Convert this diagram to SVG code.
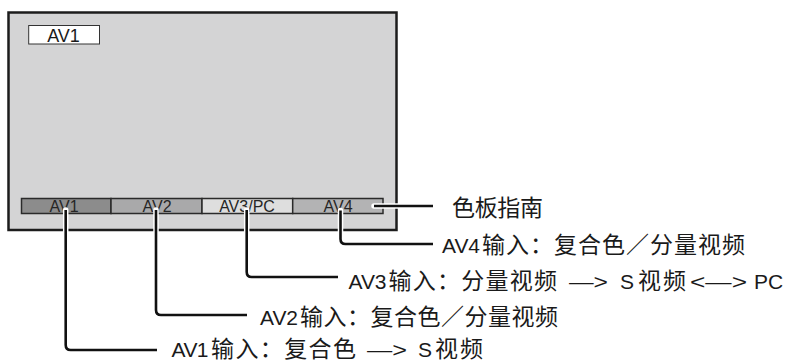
<svg xmlns="http://www.w3.org/2000/svg" width="791" height="363" viewBox="0 0 791 363">
<style>
  .t{font-family:"Liberation Sans","Noto Sans CJK SC",sans-serif;fill:#1a1a1a}
  .lat{font-size:21px}
  .cjk{font-family:"Noto Sans CJK SC",sans-serif;font-size:23px}
  .cell{font-size:16px;text-anchor:middle;fill:#262626}
  .cellbox{stroke:#2a2a2a;stroke-width:1.5}
  .halo{fill:none;stroke:#fff;stroke-width:5.5;stroke-linecap:round;stroke-linejoin:round}
  .wire{fill:none;stroke:#111;stroke-width:2.6;stroke-linecap:butt;stroke-linejoin:round}
</style>
<rect width="791" height="363" fill="#fff"/>
<g id="screen">
  <rect x="8.5" y="12.5" width="388" height="217.5" fill="#d4d4d5" stroke="#1c1c1c" stroke-width="2.5"/>
  <g id="current-input">
    <rect x="28.7" y="25.5" width="70.8" height="18.5" fill="#fff" stroke="#333" stroke-width="1"/>
    <text class="t" x="63.5" y="41.5" font-size="18" text-anchor="middle">AV1</text>
  </g>
</g>
<g id="bar-av1">
  <rect class="cellbox" x="21.5" y="198.5" width="89.5" height="15" fill="#8c8c8c"/>
  <text class="t cell" x="64" y="211.5">AV1</text>
</g>
<g id="bar-av2">
  <rect class="cellbox" x="111" y="198.5" width="91" height="15" fill="#a9a9aa"/>
  <text class="t cell" x="157" y="211.5">AV2</text>
</g>
<g id="bar-av3">
  <rect class="cellbox" x="202" y="198.5" width="90.7" height="15" fill="#dedede"/>
  <text class="t cell" x="247" y="211.5">AV3/PC</text>
</g>
<g id="bar-av4">
  <rect class="cellbox" x="292.7" y="198.5" width="90.3" height="15" fill="#b3b3b4"/>
  <text class="t cell" x="338" y="211.5">AV4</text>
</g>
<g id="connectors">
  <path class="halo" d="M65.7 210 V345 Q65.7 350 70.7 350 H157"/>
  <path class="halo" d="M156 210 V310 Q156 315 161 315 H247"/>
  <path class="halo" d="M246.7 210 V272 Q246.7 277 251.7 277 H338"/>
  <path class="halo" d="M340.5 210.5 V239 Q340.5 244 345.5 244 H433"/>
  <path class="halo" d="M374 206 H433"/>
  <path class="wire" d="M65.7 210 V345 Q65.7 350 70.7 350 H157"/>
  <path class="wire" d="M156 210 V310 Q156 315 161 315 H247"/>
  <path class="wire" d="M246.7 210 V272 Q246.7 277 251.7 277 H338"/>
  <path class="wire" d="M340.5 210.5 V239 Q340.5 244 345.5 244 H433"/>
  <path class="wire" d="M374 206 H433"/>
</g>
<g id="label-guide">
  <text class="t cjk" x="452" y="216" textLength="91" lengthAdjust="spacing">色板指南</text>
</g>
<g id="label-av4">
  <text class="t" y="252.5"><tspan class="lat" x="442" textLength="38" lengthAdjust="spacing">AV4</tspan><tspan class="cjk" x="482" textLength="263" lengthAdjust="spacing">输入：复合色／分量视频</tspan></text>
</g>
<g id="label-av3">
  <text class="t" y="288.5"><tspan class="lat" x="348.5" textLength="38" lengthAdjust="spacing">AV3</tspan><tspan class="cjk" x="388.5" textLength="168.5" lengthAdjust="spacing">输入：分量视频</tspan><tspan class="lat" x="569" textLength="39" lengthAdjust="spacingAndGlyphs">—&gt;</tspan><tspan class="lat" x="620">S</tspan><tspan class="cjk" x="638" textLength="48" lengthAdjust="spacing">视频</tspan><tspan class="lat" x="690" textLength="57" lengthAdjust="spacingAndGlyphs">&lt;—&gt;</tspan><tspan class="lat" x="754">PC</tspan></text>
</g>
<g id="label-av2">
  <text class="t" y="324.5"><tspan class="lat" x="260" textLength="38" lengthAdjust="spacing">AV2</tspan><tspan class="cjk" x="300" textLength="258" lengthAdjust="spacing">输入：复合色／分量视频</tspan></text>
</g>
<g id="label-av1">
  <text class="t" y="357"><tspan class="lat" x="171.5" textLength="37" lengthAdjust="spacing">AV1</tspan><tspan class="cjk" x="211" textLength="145" lengthAdjust="spacing">输入：复合色</tspan><tspan class="lat" x="367" textLength="40" lengthAdjust="spacingAndGlyphs">—&gt;</tspan><tspan class="lat" x="418">S</tspan><tspan class="cjk" x="435" textLength="48" lengthAdjust="spacing">视频</tspan></text>
</g>
</svg>
